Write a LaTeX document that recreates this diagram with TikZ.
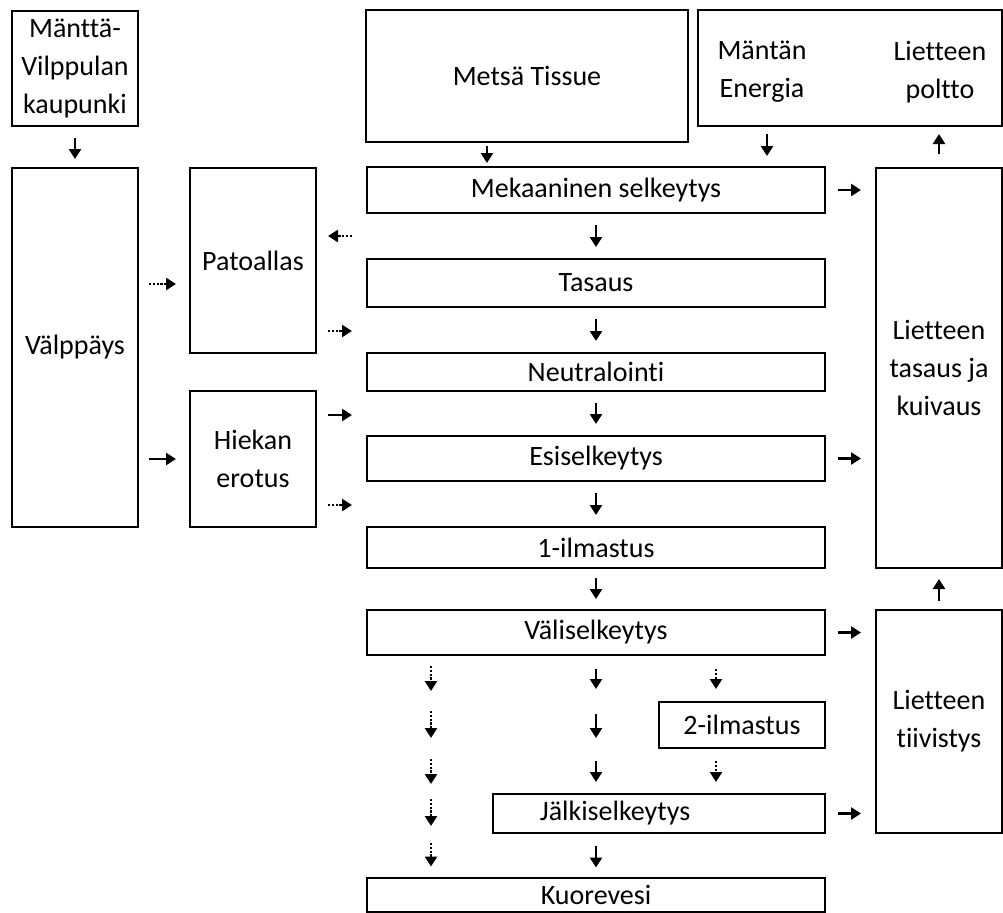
\documentclass[tikz,border=0pt]{standalone}
\usepackage{fontspec}
\setmainfont{Carlito}[Ligatures=NoCommon]
\usetikzlibrary{arrows.meta}

\begin{document}
\begin{tikzpicture}[x=0.5pt, y=-0.5pt,
    box/.style={draw, line width=1pt, inner sep=0pt, align=center,
      minimum width=63pt, font=\fontsize{14}{19}\selectfont},
    txt/.style={inner sep=0pt, align=center, font=\fontsize{14}{19}\selectfont},
    stage/.style={box, minimum width=229pt},
    flow/.style={line width=1.4pt, -{Triangle[width=6pt, length=5pt]}},
    dflow/.style={flow, dash pattern=on 1.1pt off 0.8pt}]
    \useasboundingbox (0,0) rectangle (1003,912);

    % top row
    \node[box, minimum height=57.5pt] (mantta) at (75,68.5) {Mänttä-\\Vilppulan\\kaupunki};
    \node[box, minimum width=161pt, minimum height=66pt] (metsa) at (527,76) {Metsä Tissue};
    \node[box, minimum width=152pt, minimum height=58pt] (energia) at (850,68) {};
    \node[txt] (mantan) at (762,72) {Mäntän\\Energia};
    \node[txt] (poltto) at (940,72) {Lietteen\\poltto};

    % left side
    \node[box, minimum height=179.5pt] (valppays) at (75,347.5) {Välppäys};
    \node[box, minimum height=92.5pt] (patoallas) at (253,260.5) {Patoallas};
    \node[box, minimum height=68pt] (hiekan) at (253,459) {Hiekan\\erotus};

    % main line
    \node[stage, minimum height=23pt] (meka) at (596,190) {Mekaaninen selkeytys};
    \node[stage, minimum height=24pt] (tasaus) at (596,283) {Tasaus};
    \node[stage, minimum height=19pt] (neutr) at (596,372) {Neutralointi};
    \node[stage, minimum height=22.5pt] (esisel) at (596,458.5) {Esiselkeytys};
    \node[stage, minimum height=20.5pt] (ilma1) at (596,547.5) {1-ilmastus};
    \node[stage, minimum height=22.5pt] (vali) at (596,632.5) {Väliselkeytys};
    \node[box, minimum width=83pt, minimum height=23pt] (ilma2) at (742,725) {2-ilmastus};
    \node[box, minimum width=166pt, minimum height=19.5pt] (jalki) at (659,813.5) {};
    \node[txt] (jalkitxt) at (615,813.5) {Jälkiselkeytys};
    \node[stage, minimum height=17pt] (kuore) at (596,894.5) {Kuorevesi};

    % sludge
    \node[box, minimum height=200pt] (liettasaus) at (939,368) {Lietteen\\tasaus ja\\kuivaus};
    \node[box, minimum height=111.5pt] (tiivistys) at (939,721.5) {Lietteen\\tiivistys};

    \coordinate (lx) at (431,0);
    \coordinate (rx) at (716,0);
    \coordinate (pin) at ([yshift=12.25pt]patoallas.east);
    \coordinate (pout) at ([yshift=-35.25pt]patoallas.east);
    \coordinate (hin) at ([yshift=22pt]hiekan.east);
    \coordinate (hout) at ([yshift=-23pt]hiekan.east);
    \coordinate (vout) at ([yshift=31.75pt]valppays.east);

    % arrows from the top
    \draw[flow, shorten <=5.5pt, shorten >=4pt] (mantta) -- (valppays);
    \draw[flow, shorten <=1.5pt, shorten >=1.5pt] ([xshift=-20pt]metsa.south) -- ([xshift=-20pt]metsa.south |- meka.north);
    \draw[flow, shorten <=3.5pt, shorten >=5pt] ([xshift=-41.5pt]energia.south) -- ([xshift=-41.5pt]energia.south |- meka.north);
    \draw[flow, shorten <=6.5pt, shorten >=3.5pt] (liettasaus.north) -- (liettasaus.north |- energia.south);

    % left side
    \draw[dflow, shorten <=5pt, shorten >=6.5pt] (vout) -- (vout -| patoallas.west);
    \draw[flow, shorten <=5pt, shorten >=6.5pt] (hiekan.west -| valppays.east) -- (hiekan.west);
    \draw[dflow, shorten <=7pt, shorten >=5.5pt] (pin -| meka.west) -- (pin);
    \draw[dflow, shorten <=5.5pt, shorten >=7pt] (pout) -- (pout -| meka.west);
    \draw[flow, shorten <=5.5pt, shorten >=7pt] (hin) -- (hin -| meka.west);
    \draw[dflow, shorten <=5.5pt, shorten >=7pt] (hout) -- (hout -| meka.west);

    % main line
    \draw[flow, shorten <=5.5pt, shorten >=5.5pt] (meka) -- (tasaus);
    \draw[flow, shorten <=5.5pt, shorten >=5.5pt] (tasaus) -- (neutr);
    \draw[flow, shorten <=5.5pt, shorten >=5.5pt] (neutr) -- (esisel);
    \draw[flow, shorten <=5.5pt, shorten >=5.5pt] (esisel) -- (ilma1);
    \draw[flow, shorten <=4.5pt, shorten >=5pt] (ilma1) -- (vali);
    \draw[flow, shorten <=6.5pt, shorten >=6pt] (vali.south) -- (vali.south |- ilma2.north);
    \draw[flow, shorten <=6.5pt, shorten >=5.5pt] (vali.south |- ilma2.north) -- (vali.south |- ilma2.south);
    \draw[flow, shorten <=6pt, shorten >=5.5pt] (vali.south |- ilma2.south) -- (vali.south |- jalki.north);
    \draw[flow, shorten <=6pt, shorten >=4.5pt] (kuore |- jalki.south) -- (kuore.north);

    % 2-ilmastus branch
    \draw[dflow, shorten <=6.5pt, shorten >=6pt] (vali.south -| rx) -- (ilma2.north -| rx);
    \draw[dflow, shorten <=6pt, shorten >=5.5pt] (ilma2.south -| rx) -- (jalki.north -| rx);

    % bypass
    \draw[dflow, shorten <=5pt, shorten >=5pt] (vali.south -| lx) -- (ilma2.north -| lx);
    \draw[dflow, shorten <=5pt, shorten >=5.5pt] (ilma2.north -| lx) -- (ilma2.south -| lx);
    \draw[dflow, shorten <=5pt, shorten >=4.5pt] (ilma2.south -| lx) -- (jalki.north -| lx);
    \draw[dflow, shorten <=3pt, shorten >=4pt] (jalki.north -| lx) -- (jalki.south -| lx);
    \draw[dflow, shorten <=4.5pt, shorten >=5pt] (jalki.south -| lx) -- (kuore.north -| lx);

    % sludge lines
    \draw[flow, shorten <=6pt, shorten >=7pt] (meka.east) -- (meka.east -| liettasaus.west);
    \draw[flow, shorten <=6pt, shorten >=7pt] (esisel.east) -- (esisel.east -| liettasaus.west);
    \draw[flow, shorten <=6pt, shorten >=7pt] (vali.east) -- (vali.east -| tiivistys.west);
    \draw[flow, shorten <=6pt, shorten >=7pt] (jalki.east) -- (jalki.east -| tiivistys.west);
    \draw[flow, shorten <=4pt, shorten >=5pt] (tiivistys) -- (liettasaus);
  \end{tikzpicture}
\end{document}
